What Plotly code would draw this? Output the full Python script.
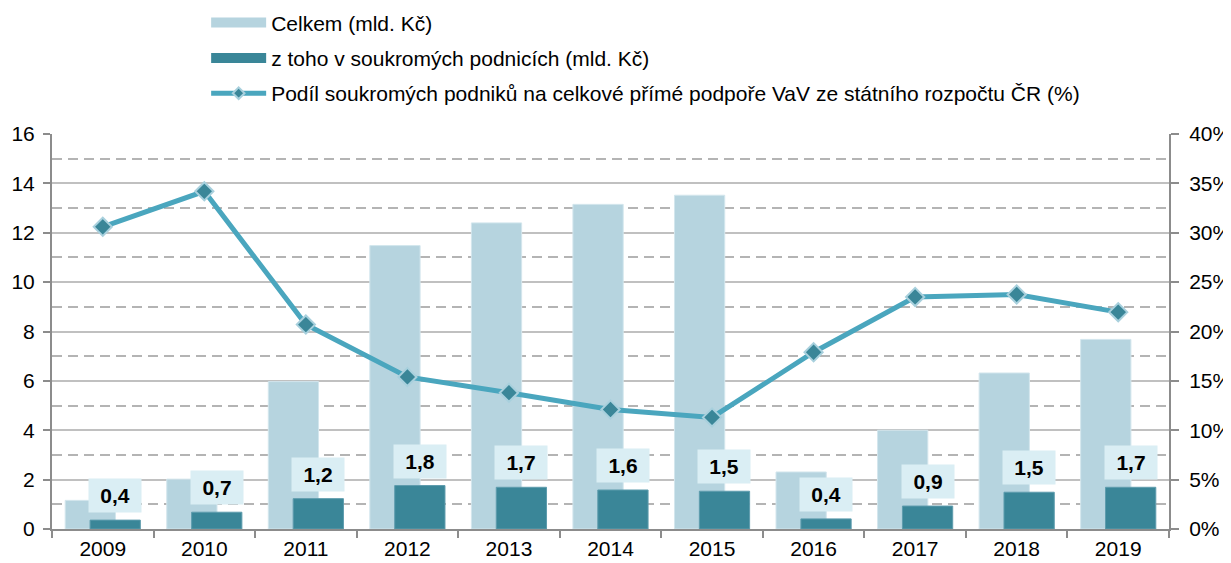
import plotly.graph_objects as go

years = ["2009", "2010", "2011", "2012", "2013", "2014", "2015", "2016", "2017", "2018", "2019"]
total = [1.16, 2.02, 5.97, 11.48, 12.4, 13.15, 13.52, 2.31, 4.0, 6.32, 7.68]
private = [0.36, 0.68, 1.23, 1.76, 1.69, 1.58, 1.53, 0.41, 0.93, 1.49, 1.69]
share = [30.6, 34.2, 20.7, 15.4, 13.8, 12.1, 11.3, 17.9, 23.5, 23.75, 21.96]

name_total = "Celkem (mld. Kč)"
name_private = "z toho v soukromých podnicích (mld. Kč)"
name_share = "Podíl soukromých podniků na celkové přímé podpoře VaV ze státního rozpočtu ČR (%)"

c_light = "#B6D4DF"
c_dark = "#3A8698"
c_line = "#4AA6BE"
c_mark_edge = "#A8D0DD"
c_box = "#DAEEF4"
FONT = "Arial, 'Liberation Sans', sans-serif"

bar_w = 0.495
off_light = -0.37
off_dark = -0.125

fig = go.Figure()
fig.add_trace(go.Bar(x=years, y=total, name=name_total, marker=dict(color=c_light, line=dict(color="#D3E6ED", width=1)),
                     width=bar_w, offset=off_light, showlegend=False))
fig.add_trace(go.Bar(x=years, y=private, name=name_private, marker=dict(color=c_dark, line=dict(color="#5E9CAD", width=1)),
                     width=bar_w, offset=off_dark, showlegend=False))
fig.add_trace(go.Scatter(x=years, y=share, name=name_share, yaxis="y2", mode="lines+markers",
                         line=dict(color=c_line, width=5),
                         marker=dict(symbol="diamond", size=14, color=c_dark, line=dict(color=c_mark_edge, width=2)),
                         showlegend=False))

# legend entries
fig.add_trace(go.Scatter(x=[None], y=[None], mode="lines", name=name_total, line=dict(color=c_light, width=11),
                         legendgroup="a"))
fig.add_trace(go.Scatter(x=[None], y=[None], mode="lines", name=name_private, line=dict(color=c_dark, width=11),
                         legendgroup="b"))
fig.add_trace(go.Scatter(x=[None], y=[None], mode="lines+markers", name=name_share,
                         line=dict(color=c_line, width=5),
                         marker=dict(symbol="diamond", size=9, color=c_dark, line=dict(color=c_mark_edge, width=2)),
                         legendgroup="c"))

for i, v in enumerate(private):
    fig.add_annotation(x=i + off_dark + bar_w / 2, y=v, xref="x", yref="y",
                       text="<b>" + f"{v:.1f}".replace(".", ",") + "</b>",
                       showarrow=False, yanchor="bottom", yshift=7,
                       width=52, height=33, borderpad=0, bgcolor=c_box,
                       font=dict(size=21, color="#000000", family=FONT))

fig.update_layout(
    width=1223, height=555,
    margin=dict(l=44, r=62, t=126, b=34, autoexpand=False),
    paper_bgcolor="white", plot_bgcolor="white",
    font=dict(family=FONT, size=21, color="#000000"),
    barmode="overlay",
    showlegend=True,
    legend=dict(x=0.138, y=1.333, yanchor="top", xanchor="left", orientation="v",
                font=dict(size=21), tracegroupgap=5, itemwidth=55, bgcolor="rgba(0,0,0,0)"),
    xaxis=dict(type="category", showline=True, linecolor="#8C8C8C", linewidth=2,
               ticks="outside", tickson="boundaries", ticklen=7, tickcolor="#8C8C8C", tickwidth=1.5,
               showgrid=False, tickfont=dict(size=21), range=[-0.5, 10.5]),
    yaxis=dict(range=[0, 16], dtick=2, showline=True, linecolor="#8C8C8C", linewidth=2,
               ticks="outside", ticklen=7, tickcolor="#8C8C8C", tickwidth=1.5,
               showgrid=True, gridcolor="#C0C0C0", gridwidth=1.5, zeroline=False,
               minor=dict(dtick=1, showgrid=True, gridcolor="#B4B4B4", griddash="10px,6px", gridwidth=1.5),
               tickfont=dict(size=21), ticklabelstandoff=4),
    yaxis2=dict(range=[0, 40], dtick=5, overlaying="y", side="right", ticksuffix="%",
                showline=True, linecolor="#8C8C8C", linewidth=2, ticks="outside", ticklen=8,
                tickcolor="#8C8C8C", tickwidth=1.5, showgrid=False, zeroline=False,
                tickfont=dict(size=21), ticklabelstandoff=6),
)

fig.write_html("out.html")
